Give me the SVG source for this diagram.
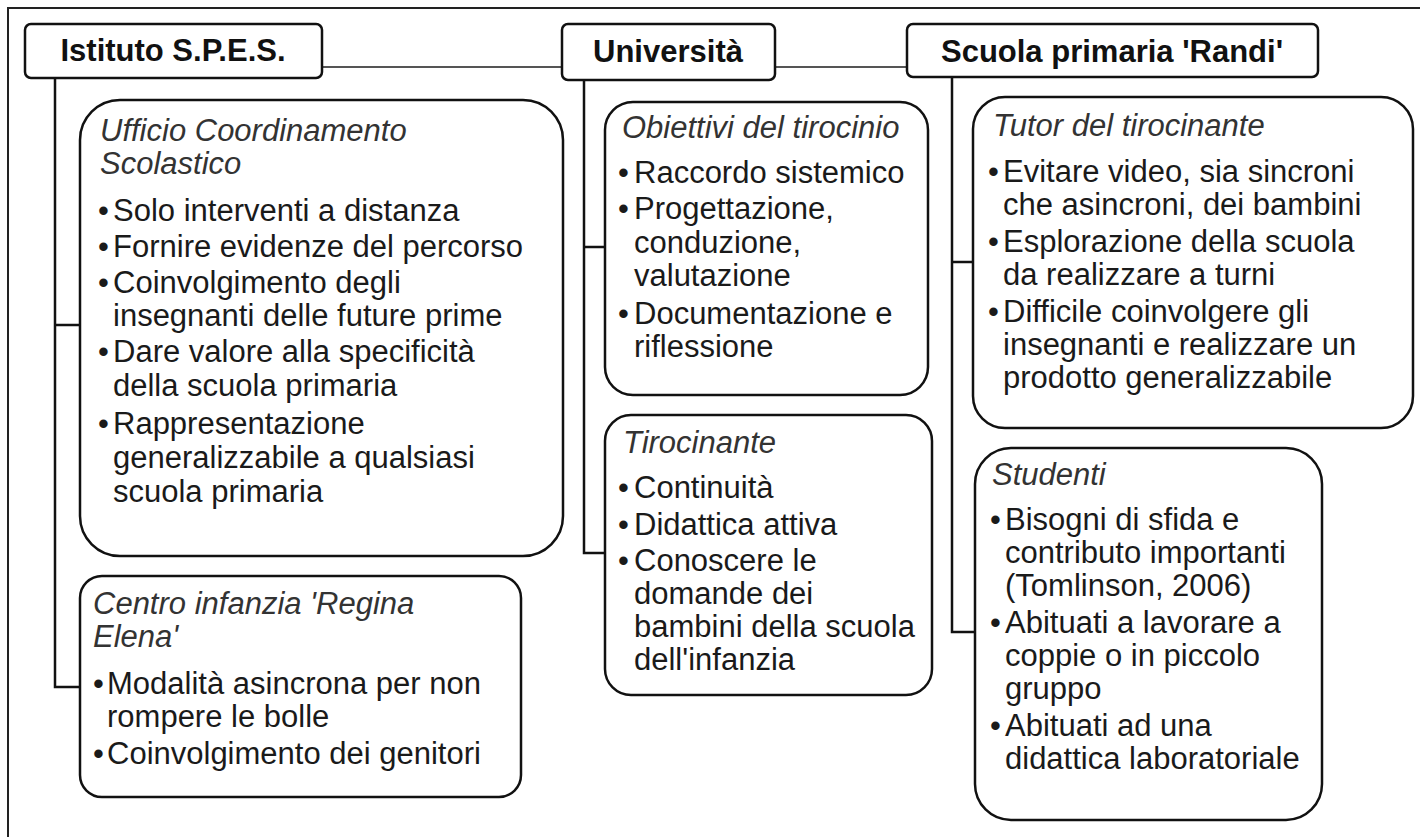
<svg xmlns="http://www.w3.org/2000/svg" width="1420" height="837" viewBox="0 0 1420 837">
<style>
.frame{fill:none;stroke:#222;stroke-width:2}
.hdr{fill:#fff;stroke:#111;stroke-width:2.5}
.box{fill:#fff;stroke:#111;stroke-width:2.5}
.ttl{font-family:"Liberation Sans",Arial,sans-serif;font-size:31px;font-weight:bold;fill:#111;text-anchor:middle}
.sub{font-family:"Liberation Sans",Arial,sans-serif;font-size:31px;font-style:italic;fill:#333}
.bd{font-family:"Liberation Sans",Arial,sans-serif;font-size:31px;fill:#1a1a1a}
.trunk{fill:none;stroke:#111;stroke-width:2.5}
.link{fill:none;stroke:#555;stroke-width:1.8}
</style>
<rect width="1420" height="837" fill="#fff"/>
<path class="frame" d="M8,837 V8 H1420"/>

<g id="connectors">
  <path class="link" d="M322,67 H562 M775,67 H907"/>
  <path class="trunk" d="M55,78 V687 H80 M55,325 H80"/>
  <path class="trunk" d="M584,80 V553 H605 M584,247 H605"/>
  <path class="trunk" d="M952,77 V632 H975 M952,262 H973"/>
</g>

<g id="istituto">
  <rect class="hdr" x="25" y="24" width="297" height="54" rx="6"/>
  <text class="ttl" x="173" y="61">Istituto S.P.E.S.</text>
</g>
<g id="universita">
  <rect class="hdr" x="562" y="24" width="213" height="56" rx="6"/>
  <text class="ttl" x="668" y="62">Università</text>
</g>
<g id="scuola">
  <rect class="hdr" x="907" y="24" width="411" height="53" rx="6"/>
  <text class="ttl" x="1112" y="62">Scuola primaria 'Randi'</text>
</g>

<g id="ufficio">
  <rect class="box" x="80" y="100" width="483" height="456" rx="40"/>
  <text class="sub" x="100" y="141">Ufficio Coordinamento</text>
  <text class="sub" x="100" y="174">Scolastico</text>
  <text class="bd"><tspan x="98" y="221">•</tspan><tspan x="113" y="221">Solo interventi a distanza</tspan></text>
  <text class="bd"><tspan x="98" y="257">•</tspan><tspan x="113" y="257">Fornire evidenze del percorso</tspan></text>
  <text class="bd"><tspan x="98" y="293">•</tspan><tspan x="113" y="293">Coinvolgimento degli</tspan><tspan x="113" y="326">insegnanti delle future prime</tspan></text>
  <text class="bd"><tspan x="98" y="362">•</tspan><tspan x="113" y="362">Dare valore alla specificità</tspan><tspan x="113" y="396">della scuola primaria</tspan></text>
  <text class="bd"><tspan x="98" y="434">•</tspan><tspan x="113" y="434">Rappresentazione</tspan><tspan x="113" y="468">generalizzabile a qualsiasi</tspan><tspan x="113" y="502">scuola primaria</tspan></text>
</g>

<g id="centro">
  <rect class="box" x="80" y="576" width="441" height="221" rx="22"/>
  <text class="sub" x="93" y="614">Centro infanzia 'Regina</text>
  <text class="sub" x="93" y="647">Elena'</text>
  <text class="bd"><tspan x="93" y="694">•</tspan><tspan x="107" y="694">Modalità asincrona per non</tspan><tspan x="107" y="727">rompere le bolle</tspan></text>
  <text class="bd"><tspan x="93" y="764">•</tspan><tspan x="107" y="764">Coinvolgimento dei genitori</tspan></text>
</g>

<g id="obiettivi">
  <rect class="box" x="605" y="102" width="323" height="293" rx="28"/>
  <text class="sub" x="622" y="138">Obiettivi del tirocinio</text>
  <text class="bd"><tspan x="618" y="183">•</tspan><tspan x="634" y="183">Raccordo sistemico</tspan></text>
  <text class="bd"><tspan x="618" y="219">•</tspan><tspan x="634" y="219">Progettazione,</tspan><tspan x="634" y="253">conduzione,</tspan><tspan x="634" y="286">valutazione</tspan></text>
  <text class="bd"><tspan x="618" y="324">•</tspan><tspan x="634" y="324">Documentazione e</tspan><tspan x="634" y="357">riflessione</tspan></text>
</g>

<g id="tirocinante">
  <rect class="box" x="605" y="415" width="327" height="280" rx="26"/>
  <text class="sub" x="623" y="453">Tirocinante</text>
  <text class="bd"><tspan x="618" y="498">•</tspan><tspan x="634" y="498">Continuità</tspan></text>
  <text class="bd"><tspan x="618" y="535">•</tspan><tspan x="634" y="535">Didattica attiva</tspan></text>
  <text class="bd"><tspan x="618" y="571">•</tspan><tspan x="634" y="571">Conoscere le</tspan><tspan x="634" y="604">domande dei</tspan><tspan x="634" y="637">bambini della scuola</tspan><tspan x="634" y="670">dell'infanzia</tspan></text>
</g>

<g id="tutor">
  <rect class="box" x="973" y="97" width="440" height="331" rx="32"/>
  <text class="sub" x="993" y="136">Tutor del tirocinante</text>
  <text class="bd"><tspan x="988" y="182">•</tspan><tspan x="1003" y="182">Evitare video, sia sincroni</tspan><tspan x="1003" y="215">che asincroni, dei bambini</tspan></text>
  <text class="bd"><tspan x="988" y="252">•</tspan><tspan x="1003" y="252">Esplorazione della scuola</tspan><tspan x="1003" y="285">da realizzare a turni</tspan></text>
  <text class="bd"><tspan x="988" y="322">•</tspan><tspan x="1003" y="322">Difficile coinvolgere gli</tspan><tspan x="1003" y="355">insegnanti e realizzare un</tspan><tspan x="1003" y="388">prodotto generalizzabile</tspan></text>
</g>

<g id="studenti">
  <rect class="box" x="975" y="448" width="347" height="372" rx="36"/>
  <text class="sub" x="992" y="485">Studenti</text>
  <text class="bd"><tspan x="990" y="530">•</tspan><tspan x="1005" y="530">Bisogni di sfida e</tspan><tspan x="1005" y="563">contributo importanti</tspan><tspan x="1005" y="596">(Tomlinson, 2006)</tspan></text>
  <text class="bd"><tspan x="990" y="633">•</tspan><tspan x="1005" y="633">Abituati a lavorare a</tspan><tspan x="1005" y="666">coppie o in piccolo</tspan><tspan x="1005" y="699">gruppo</tspan></text>
  <text class="bd"><tspan x="990" y="736">•</tspan><tspan x="1005" y="736">Abituati ad una</tspan><tspan x="1005" y="769">didattica laboratoriale</tspan></text>
</g>
</svg>
